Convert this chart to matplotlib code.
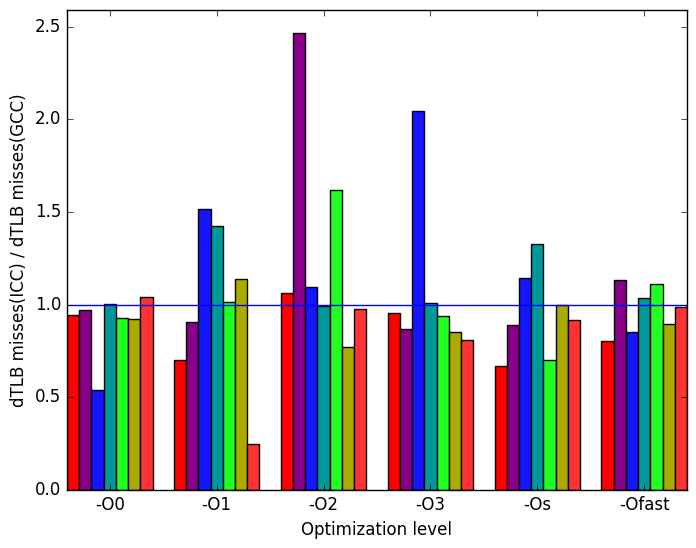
import numpy as np
import matplotlib
matplotlib.use('Agg')
import matplotlib.pyplot as plt

plt.style.use('classic')

levels = ['-O0', '-O1', '-O2', '-O3', '-Os', '-Ofast']

# one list per benchmark, values per optimization level
s1 = [0.943, 0.699, 1.065, 0.957, 0.668, 0.806]
s2 = [0.970, 0.905, 2.466, 0.871, 0.893, 1.135]
s3 = [0.537, 1.514, 1.097, 2.047, 1.146, 0.850]
s4 = [1.006, 1.422, 0.995, 1.011, 1.329, 1.038]
s5 = [0.930, 1.015, 1.620, 0.938, 0.704, 1.114]
s6 = [0.925, 1.137, 0.769, 0.850, 1.000, 0.898]
s7 = [1.040, 0.246, 0.974, 0.812, 0.920, 0.990]

series = [s1, s2, s3, s4, s5, s6, s7]
colors = ['#ff0000', '#880088', '#1515ff', '#009999', '#22ff22', '#aaaa00', '#ff3333']

fig = plt.figure(figsize=(6.96, 5.48), dpi=100, facecolor='white')
ax = fig.add_axes([0.0963, 0.1058, 0.8907, 0.876])

x = np.arange(len(levels))
w = 0.8 / len(series)
for i, (vals, c) in enumerate(zip(series, colors)):
    ax.bar(x - 0.4 + i * w, vals, w, align='edge', color=c, edgecolor='black', linewidth=1)

ax.axhline(1.0, color='blue', linewidth=1)

ax.set_xlim(-0.4, len(levels) - 0.6)
ax.set_ylim(0, 2.59)
ax.set_xticks(x)
ax.set_xticklabels(levels)
ax.set_yticks([0, 0.5, 1.0, 1.5, 2.0, 2.5])
ax.set_xlabel('Optimization level')
ax.set_ylabel('dTLB misses(ICC) / dTLB misses(GCC)')

fig.savefig('out.png', dpi=100, facecolor='white')
